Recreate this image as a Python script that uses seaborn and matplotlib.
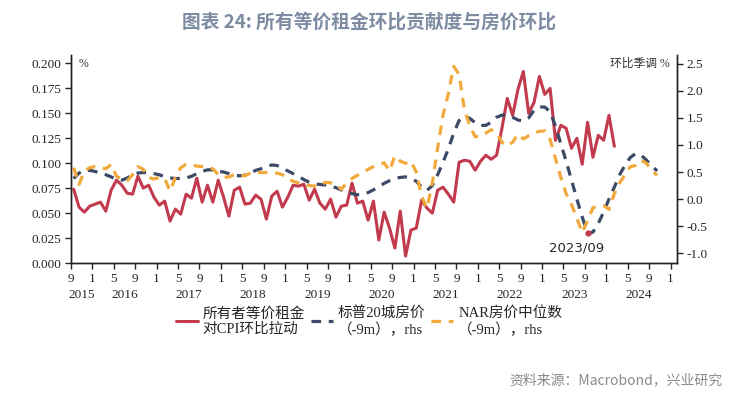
import numpy as np
import pandas as pd
import matplotlib
matplotlib.use("Agg")
import matplotlib.pyplot as plt
import seaborn as sns

# 月度数据，起点 2015年9月（每点画在当月月中）
rent = [0.074, 0.056, 0.051, 0.057, 0.059, 0.061, 0.052, 0.073, 0.083, 0.078,
        0.070, 0.069, 0.087, 0.075, 0.078, 0.066, 0.058, 0.062, 0.042, 0.054,
        0.049, 0.069, 0.065, 0.085, 0.061, 0.078, 0.061, 0.083, 0.066, 0.047,
        0.073, 0.076, 0.059, 0.060, 0.068, 0.064, 0.044, 0.067, 0.072, 0.056,
        0.066, 0.078, 0.077, 0.079, 0.063, 0.074, 0.060, 0.054, 0.064, 0.046,
        0.057, 0.058, 0.080, 0.060, 0.062, 0.043, 0.062, 0.023, 0.051, 0.035,
        0.015, 0.052, 0.007, 0.033, 0.035, 0.063, 0.055, 0.050, 0.073, 0.076,
        0.069, 0.061, 0.101, 0.103, 0.102, 0.093, 0.102, 0.108, 0.104, 0.108,
        0.135, 0.165, 0.148, 0.174, 0.192, 0.150, 0.161, 0.187, 0.169, 0.175,
        0.123, 0.138, 0.135, 0.115, 0.125, 0.099, 0.141, 0.106, 0.128, 0.123,
        0.148, 0.117]

cs20 = [0.38, 0.48, 0.53, 0.53, 0.51, 0.48, 0.45, 0.41, 0.36, 0.35,
        0.39, 0.45, 0.48, 0.49, 0.49, 0.47, 0.45, 0.41, 0.39, 0.38,
        0.38, 0.39, 0.42, 0.47, 0.51, 0.54, 0.54, 0.51, 0.50, 0.47,
        0.44, 0.43, 0.44, 0.48, 0.53, 0.56, 0.60, 0.63, 0.62, 0.57,
        0.52, 0.47, 0.42, 0.36, 0.31, 0.28, 0.27, 0.26, 0.24, 0.21,
        0.17, 0.13, 0.10, 0.08, 0.09, 0.12, 0.17, 0.23, 0.29, 0.34,
        0.38, 0.40, 0.41, 0.38, 0.33, 0.22, 0.16, 0.25, 0.45, 0.68,
        0.93, 1.22, 1.45, 1.53, 1.49, 1.41, 1.36, 1.36, 1.42, 1.51,
        1.55, 1.55, 1.51, 1.46, 1.44, 1.50, 1.64, 1.70, 1.70, 1.61,
        1.35, 1.02, 0.70, 0.35, 0.00, -0.33, -0.63, -0.61, -0.45, -0.24,
        0.00, 0.22, 0.45, 0.63, 0.77, 0.84, 0.81, 0.72, 0.61, 0.52]

nar = [0.58, 0.27, 0.52, 0.58, 0.60, 0.58, 0.56, 0.64, 0.42, 0.37,
       0.34, 0.45, 0.60, 0.55, 0.40, 0.37, 0.40, 0.38, 0.15, 0.40,
       0.58, 0.64, 0.63, 0.61, 0.60, 0.58, 0.56, 0.45, 0.40, 0.41,
       0.45, 0.44, 0.43, 0.48, 0.50, 0.49, 0.49, 0.47, 0.48, 0.45,
       0.37, 0.33, 0.30, 0.27, 0.25, 0.24, 0.24, 0.31, 0.30, 0.27,
       0.18, 0.30, 0.38, 0.44, 0.49, 0.55, 0.60, 0.63, 0.67, 0.52,
       0.80, 0.70, 0.66, 0.70, 0.50, 0.05, -0.17, 0.30, 0.95, 1.55,
       1.95, 2.45, 2.30, 1.65, 1.35, 1.15, 1.16, 1.22, 1.28, 1.23,
       1.05, 0.98, 1.05, 1.20, 1.11, 1.17, 1.22, 1.25, 1.26, 1.10,
       0.75, 0.40, 0.10, -0.10, -0.35, -0.62, -0.40, -0.16, -0.13, -0.12,
       -0.19, 0.10, 0.30, 0.45, 0.60, 0.62, 0.72, 0.66, 0.52, 0.44]

month_labels = ["9", "1", "5"]
years = ["2015", "2016", "2017", "2018", "2019", "2020", "2021", "2022", "2023", "2024"]
labels = ["所有者等价租金\n对CPI环比拉动", "标普20城房价\n（-9m），rhs", "NAR房价中位数\n（-9m），rhs"]
mark_idx = 96  # 2023/09

df1 = pd.DataFrame({"m": np.arange(len(rent)) + 0.5, "rent": rent})
df2 = pd.DataFrame({"m": np.arange(len(cs20)) + 0.5, "cs20": cs20, "nar": nar})

sns.set_style("ticks")
plt.rcParams['font.family'] = ['Liberation Serif', 'Noto Sans CJK SC', 'DejaVu Sans']

red = "#c23a4e"
navy = "#3b4a66"
orange = "#f2a93b"

fig = plt.figure(figsize=(7.38, 3.97), dpi=100)
ax = fig.add_axes([0.0962, 0.3375, 0.8211, 0.524])
ax2 = ax.twinx()

sns.lineplot(data=df1, x="m", y="rent", ax=ax, color=red, lw=2.2)
sns.lineplot(data=df2, x="m", y="cs20", ax=ax2, color=navy, lw=2.3, linestyle=(0, (3.0, 2.4)))
sns.lineplot(data=df2, x="m", y="nar", ax=ax2, color=orange, lw=2.3, linestyle=(0, (3.0, 2.4)))

ax.set_xlim(0, 113.2)
ax.set_ylim(0, 0.2085)
ax2.set_ylim(-1.18, 2.66)
ax.set_xlabel("")
ax.set_ylabel("")
ax2.set_ylabel("")

ax.set_yticks(np.arange(0, 0.201, 0.025))
ax.set_yticklabels([f"{v:.3f}" for v in np.arange(0, 0.201, 0.025)], fontsize=9.5)
ax2.set_yticks(np.arange(-1.0, 2.51, 0.5))
ax2.set_yticklabels([f"{v:.1f}" for v in np.arange(-1.0, 2.51, 0.5)], fontsize=9.5)

xt = np.arange(0, 113, 4)
ax.set_xticks(xt)
ax.set_xticklabels([month_labels[i % 3] for i in range(len(xt))], fontsize=9.5)
ax.set_xticks(xt[1::3], minor=True)
ax.tick_params(axis="x", which="major", length=4, width=1, pad=3)
ax.tick_params(axis="x", which="minor", length=7, width=1)
ax.tick_params(axis="y", length=4, width=1, pad=3)
ax2.tick_params(axis="y", length=4, width=1, pad=3)

for a in (ax, ax2):
    a.spines["top"].set_visible(False)
    for s in ("left", "right", "bottom"):
        a.spines[s].set_color("#222222")
        a.spines[s].set_linewidth(1)

# 年份标签
for k, y in enumerate(years):
    xpos = 2 if k == 0 else 12 * k - 2
    ax.text(xpos, -0.155, y, transform=ax.get_xaxis_transform(), ha="center", va="center", fontsize=9.5)

ax.text(0.012, 0.985, "%", transform=ax.transAxes, ha="left", va="top", fontsize=8.5, color="#333333")
ax2.text(0.988, 0.985, "环比季调 %", transform=ax2.transAxes, ha="right", va="top", fontsize=8.5, color="#333333")

# 2023/09 标注
ax2.scatter([mark_idx + 0.5], [cs20[mark_idx]], s=12, color=red, zorder=5)
ax2.annotate("2023/09", xy=(mark_idx + 0.5, cs20[mark_idx]), xytext=(-8, -11),
             textcoords="offset points", ha="center", va="center", fontsize=9.5, family=["DejaVu Sans"])

handles = [ax.lines[0], ax2.lines[0], ax2.lines[1]]
fig.legend(handles, labels, loc="upper center", bbox_to_anchor=(0.50, 0.262), ncol=3, frameon=False,
           fontsize=10.5, handlelength=1.5, handletextpad=0.35, columnspacing=0.4, labelspacing=0.2)

fig.text(0.5, 1 - 22 / 397, "图表 24: 所有等价租金环比贡献度与房价环比", ha="center", va="center",
         fontsize=13.5, fontweight="bold", color="#7d8ca3", family=["Noto Sans CJK SC", "DejaVu Sans"])
fig.text(0.979, 1 - 380 / 397, "资料来源：Macrobond，兴业研究", ha="right", va="center",
         fontsize=10, color="#8a8a8a", family=["Noto Sans CJK SC", "DejaVu Sans"])

fig.savefig("out.png", dpi=100)
